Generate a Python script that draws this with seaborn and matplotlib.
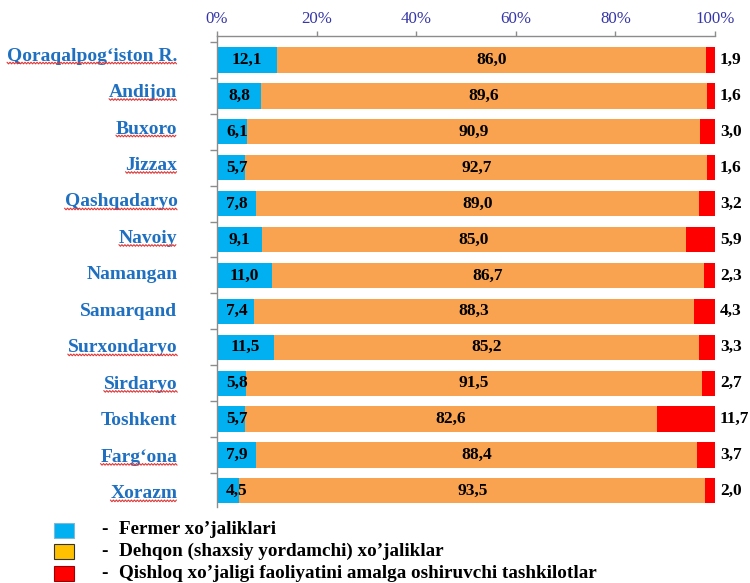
import numpy as np
import pandas as pd
import seaborn as sns
import matplotlib.pyplot as plt
from matplotlib.patches import Rectangle
from matplotlib.lines import Line2D
from matplotlib.transforms import IdentityTransform, ScaledTranslation

regions = ["Qoraqalpog‘iston R.", "Andijon", "Buxoro", "Jizzax", "Qashqadaryo",
           "Navoiy", "Namangan", "Samarqand", "Surxondaryo", "Sirdaryo",
           "Toshkent", "Farg‘ona", "Xorazm"]
fermer = [12.1, 8.8, 6.1, 5.7, 7.8, 9.1, 11.0, 7.4, 11.5, 5.8, 5.7, 7.9, 4.5]
dehqon = [86.0, 89.6, 90.9, 92.7, 89.0, 85.0, 86.7, 88.3, 85.2, 91.5, 82.6, 88.4, 93.5]
tashkilot = [1.9, 1.6, 3.0, 1.6, 3.2, 5.9, 2.3, 4.3, 3.3, 2.7, 11.7, 3.7, 2.0]
spell_flag = [True, True, True, True, True, True, False, False, True, True, False, True, True]
xticks = [0, 20, 40, 60, 80, 100]
xtick_labels = ["0%", "20%", "40%", "60%", "80%", "100%"]
legend_labels = ["Fermer xo’jaliklari",
                 "Dehqon (shaxsiy yordamchi) xo’jaliklar",
                 "Qishloq xo’jaligi faoliyatini amalga oshiruvchi tashkilotlar"]

df = pd.DataFrame({"region": regions, "fermer": fermer,
                   "dehqon": dehqon, "tashkilot": tashkilot})
df["cum2"] = df["fermer"] + df["dehqon"]
df["cum3"] = df["cum2"] + df["tashkilot"]

sns.set_theme(style="white")
plt.rcParams["font.family"] = ["Liberation Serif", "DejaVu Serif"]

W, H = 750, 583
fig = plt.figure(figsize=(W / 100, H / 100), dpi=100)
ax = fig.add_axes([217 / W, 1 - 507 / H, 498 / W, 471 / H])

C_BLUE, C_ORANGE, C_RED = "#00B0F0", "#F9A24F", "#FF0000"
for col, c in [("cum3", C_RED), ("cum2", C_ORANGE), ("fermer", C_BLUE)]:
    sns.barplot(data=df, y="region", x=col, color=c, width=0.7, orient="h",
                saturation=1, errorbar=None, ax=ax, linewidth=0)

ax.set_xlim(0, 100)
ax.set_ylim(12.45, -0.67)
ax.set_xlabel("")
ax.set_ylabel("")
ax.xaxis.tick_top()
ax.set_xticks(xticks)
ax.set_xticklabels(xtick_labels)
ax.tick_params(axis="x", direction="out", length=3.8, width=1, color="#8c8c8c",
               pad=3, labelsize=12.2, labelcolor="#3636A8")
ax.set_yticks(range(len(regions)))
ax.set_yticklabels(regions)
ax.set_yticks(np.arange(-0.5, len(regions) - 0.5, 1), minor=True)
ax.tick_params(axis="y", which="major", length=0, pad=28.5)
ax.tick_params(axis="y", which="minor", direction="out", length=5, width=1,
               color="#8c8c8c", left=True)
n = len(regions)
for i, lab in enumerate(ax.get_yticklabels()):
    lab.set_fontsize(14)
    lab.set_fontweight("bold")
    lab.set_color("#1F70C1")
    dy = (6 - 7 * i / (n - 1)) / 100.0
    lab.set_transform(lab.get_transform() +
                      ScaledTranslation(0, dy, fig.dpi_scale_trans))
for s in ["bottom", "right"]:
    ax.spines[s].set_visible(False)
for s in ["top", "left"]:
    ax.spines[s].set_visible(True)
    ax.spines[s].set_color("#8c8c8c")
    ax.spines[s].set_linewidth(1)

fmt = lambda v: f"{v:.1f}".replace(".", ",")
for i in range(n):
    ax.text(max(fermer[i] / 2, 4.0), i, fmt(fermer[i]), ha="center", va="center",
            fontsize=12.5, fontweight="bold", color="black")
    ax.text(fermer[i] + dehqon[i] / 2, i, fmt(dehqon[i]), ha="center", va="center",
            fontsize=12.5, fontweight="bold", color="black")
    ax.text(101.0, i, fmt(tashkilot[i]), ha="left", va="center",
            fontsize=12.5, fontweight="bold", color="black", clip_on=False)

# legend
sw_colors = ["#00B0F0", "#FFC000", "#FF0000"]
sw_edges = ["#7fb8d8", "#333333", "#a00000"]
row_y = [530, 551, 573]
for c, e, y, lab in zip(sw_colors, sw_edges, row_y, legend_labels):
    fig.add_artist(Rectangle((54 / W, 1 - (y + 7.5) / H), 20 / W, 15 / H,
                             transform=fig.transFigure, facecolor=c,
                             edgecolor=e, linewidth=0.8))
    fig.text(101 / W, 1 - y / H, "-", ha="left", va="center", fontsize=13.8,
             fontweight="bold", color="black")
    fig.text(119 / W, 1 - y / H, lab, ha="left", va="center", fontsize=13.8,
             fontweight="bold", color="black")

# spell-check wavy underlines
fig.canvas.draw()
renderer = fig.canvas.get_renderer()
for lab, flag in zip(ax.get_yticklabels(), spell_flag):
    if not flag:
        continue
    bb = lab.get_window_extent(renderer)
    xs = np.arange(bb.x0, bb.x1, 1.5)
    ys = bb.y0 + 1.5 + np.where(np.arange(len(xs)) % 2 == 0, 0.8, -0.8)
    fig.add_artist(Line2D(xs, ys, transform=IdentityTransform(),
                          color="#E03535", linewidth=0.8))

fig.savefig("out.png", dpi=100)
